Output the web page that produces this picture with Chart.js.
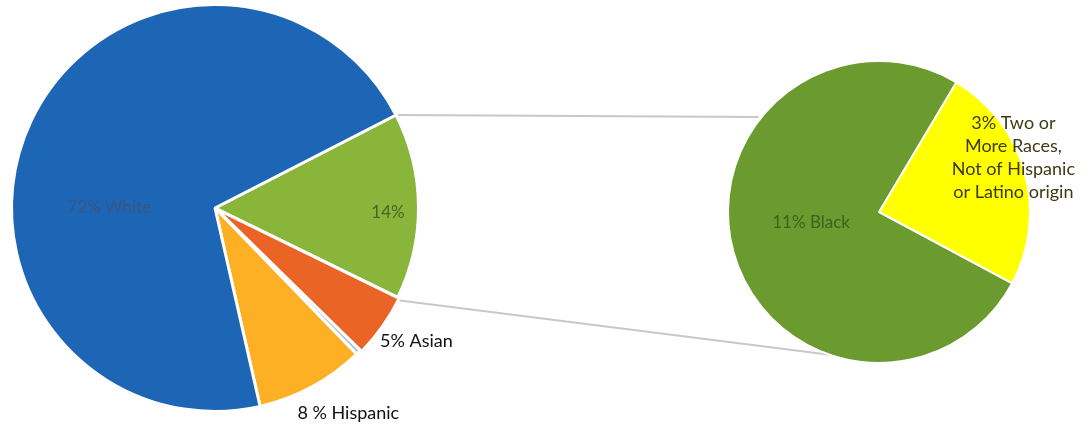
<!DOCTYPE html>
<html>
<head>
<meta charset="utf-8">
<script src="https://cdn.jsdelivr.net/npm/chart.js@4.4.0/dist/chart.umd.min.js"></script>
<style>
  body { margin: 0; background: #fff; }
  #wrap { position: relative; width: 1091px; height: 424px; }
  #wrap canvas { position: absolute; left: 0; top: 0; }
</style>
</head>
<body>
<div id="wrap">
  <canvas id="main" width="1091" height="424"></canvas>
  <canvas id="sub" width="1091" height="424"></canvas>
</div>
<script>
// main pie, clockwise from the green "other" slice
const mainLabels = ['Other', 'Asian', 'Native', 'Hispanic', 'White']
const mainValues = [14.8, 5.1, 0.4, 8.7, 71]
const mainText = [['14%'], ['5% Asian'], [], ['8 % Hispanic'], ['72% White']]

// breakdown of the 14% slice
const subLabels = ['Two or More Races', 'Black']
const subValues = [3.4, 10.6]
const subText = [['3% Two or', 'More Races,', 'Not of Hispanic', 'or Latino origin'], ['11% Black']]

const mainColors = ['#8ab53b', '#ea6425', '#a9c3dc', '#fdb023', '#1d65b5']
const subColors = ['#ffff00', '#6b9a2f']

// label placement as fraction of radius from centre, and colour/size
const mainLabelStyle = [
    {fx: 0.85, fy: 0.02, color: '#47642a', size: 17},
    {fx: 0.99, fy: 0.655, color: '#111', size: 18},
    null,
    {fx: 0.655, fy: 1.01, color: '#111', size: 18},
    {fx: -0.52, fy: 0.0, color: '#3a5684', size: 17}
]
const subLabelStyle = [
    {fx: 0.89, fy: -0.36, color: '#3d3a14', size: 18, lh: 23},
    {fx: -0.45, fy: 0.07, color: '#3b6420', size: 17}
]

function textPlugin(texts, styles){
    return {
        id: 'sliceText',
        afterDatasetsDraw(chart){
            const ctx = chart.ctx
            const arcs = chart.getDatasetMeta(0).data
            ctx.save()
            ctx.textAlign = 'center'
            ctx.textBaseline = 'middle'
            arcs.forEach((arc, i) => {
                const st = styles[i]
                if(!st) return
                const lines = texts[i]
                const lh = st.lh || st.size * 1.3
                const x = arc.x + st.fx * arc.outerRadius
                const y0 = arc.y + st.fy * arc.outerRadius - (lines.length - 1) * lh / 2
                ctx.fillStyle = st.color
                ctx.font = `${st.size}px Lato`
                lines.forEach((l, k) => ctx.fillText(l, x, y0 + k * lh))
            })
            ctx.restore()
        }
    }
}

const mainChart = new Chart(document.getElementById('main'), {
    type: 'pie',
    data: {
        labels: mainLabels,
        datasets: [{
            data: mainValues,
            backgroundColor: mainColors,
            borderColor: '#fff',
            borderWidth: 3,
            offset: [0, 4, 0, 0, 0]
        }]
    },
    options: {
        responsive: false,
        animation: false,
        rotation: 62.8,
        layout: { padding: { left: 8, top: 1, right: 669, bottom: 9 } },
        plugins: { legend: { display: false }, tooltip: { enabled: false } }
    },
    plugins: [textPlugin(mainText, mainLabelStyle)]
})

// connector lines between the 14% slice and the second pie
const connectors = {
    id: 'connectors',
    beforeDatasetsDraw(chart){
        const src = mainChart.getDatasetMeta(0).data[0]
        const dst = chart.getDatasetMeta(0).data[0]
        const pt = (arc, a) => [arc.x + arc.outerRadius * Math.cos(a), arc.y + arc.outerRadius * Math.sin(a)]
        const deg = d => (d - 90) * Math.PI / 180
        const a1 = pt(src, src.startAngle), b1 = pt(dst, deg(307))
        const a2 = pt(src, src.endAngle), b2 = pt(dst, deg(199))
        const ctx = chart.ctx
        ctx.save()
        ctx.strokeStyle = '#c8c8c8'
        ctx.lineWidth = 2
        ctx.beginPath()
        ctx.moveTo(a1[0] + 2, a1[1]); ctx.lineTo(b1[0], a1[1] + 2)
        ctx.moveTo(a2[0] + 2, a2[1] + 3); ctx.lineTo(b2[0], b2[1])
        ctx.stroke()
        ctx.restore()
    }
}

const subChart = new Chart(document.getElementById('sub'), {
    type: 'pie',
    data: {
        labels: subLabels,
        datasets: [{
            data: subValues,
            backgroundColor: subColors,
            borderColor: '#fff',
            borderWidth: 2
        }]
    },
    options: {
        responsive: false,
        animation: false,
        rotation: 30.8,
        layout: { padding: { left: 727, top: 60, right: 60, bottom: 60 } },
        plugins: { legend: { display: false }, tooltip: { enabled: false } }
    },
    plugins: [connectors, textPlugin(subText, subLabelStyle)]
})
</script>
</body>
</html>
